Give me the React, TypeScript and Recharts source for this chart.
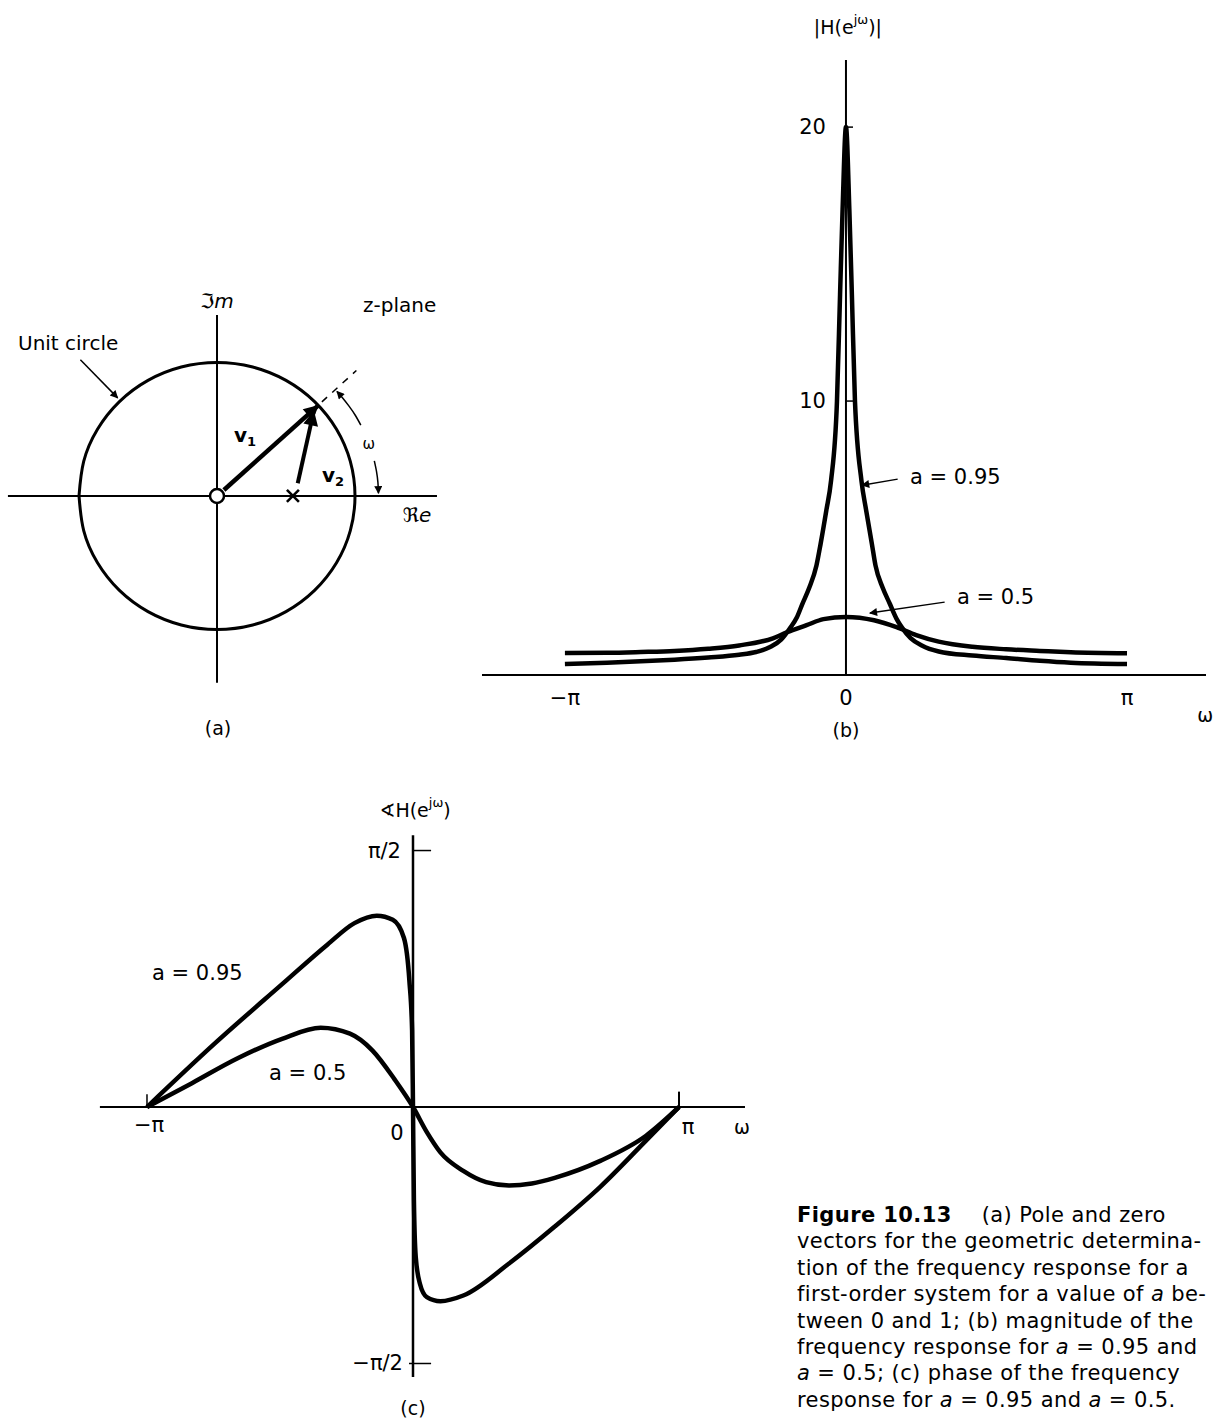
import type { ReactNode } from 'react'
import { Line, LineChart, ReferenceDot, ReferenceLine, XAxis, YAxis } from 'recharts'

const FONT = '"DejaVu Sans", "Liberation Sans", sans-serif'
const INK = '#000'

// (a) z-plane: unit circle read every 15 degrees, starting at the left crossing
const circleRe = [-1, -0.966, -0.866, -0.707, -0.5, -0.259, 0, 0.259, 0.5, 0.707, 0.866, 0.966, 1, 0.966, 0.866, 0.707, 0.5, 0.259, 0, -0.259, -0.5, -0.707, -0.866, -0.966, -1]
const circleIm = [0, -0.259, -0.5, -0.707, -0.866, -0.966, -1, -0.966, -0.866, -0.707, -0.5, -0.259, 0, 0.259, 0.5, 0.707, 0.866, 0.966, 1, 0.966, 0.866, 0.707, 0.5, 0.259, 0]
const v1Re = [0.05, 0.73]
const v1Im = [0.045, 0.675]
const v2Re = [0.585, 0.7]
const v2Im = [0.095, 0.63]
const rayRe = [0.76, 1.01]
const rayIm = [0.705, 0.94]
const arcUpRe = [1.042, 1.003, 0.958, 0.909, 0.869]
const arcUpIm = [0.531, 0.603, 0.671, 0.736, 0.783]
const arcDnRe = [1.14, 1.156, 1.166, 1.17]
const arcDnIm = [0.263, 0.183, 0.102, 0.02]
const leaderRe = [-0.99, -0.72]
const leaderIm = [1.02, 0.735]
const poleRe = 0.55

// (b) magnitude, omega in units of pi
const magW95 = [-1, -0.85, -0.73, -0.61, -0.49, -0.38, -0.32, -0.27, -0.23, -0.2, -0.175, -0.155, -0.13, -0.105, -0.09, -0.07, -0.053, -0.032, -0.021, -0.012, 0, 0.012, 0.021, 0.032, 0.055, 0.072, 0.092, 0.105, 0.13, 0.156, 0.18, 0.2, 0.23, 0.27, 0.33, 0.45, 0.57, 0.69, 0.8, 1]
const magH95 = [0.4, 0.45, 0.5, 0.56, 0.64, 0.74, 0.84, 1.02, 1.3, 1.7, 2.1, 2.6, 3.2, 4.0, 4.8, 6.0, 7.1, 10.0, 13.9, 17.0, 20.0, 17.0, 13.9, 10.0, 7.1, 6.0, 4.8, 4.0, 3.2, 2.6, 2.05, 1.72, 1.35, 1.08, 0.86, 0.71, 0.62, 0.52, 0.45, 0.4]
const magW50 = [-1, -0.85, -0.73, -0.61, -0.49, -0.38, -0.26, -0.21, -0.14, -0.08, 0, 0.1, 0.18, 0.25, 0.33, 0.45, 0.57, 0.69, 0.8, 1]
const magH50 = [0.8, 0.81, 0.84, 0.88, 0.96, 1.08, 1.34, 1.56, 1.82, 2.04, 2.12, 2.0, 1.75, 1.46, 1.22, 1.03, 0.94, 0.88, 0.83, 0.79]
const magTicks = [10, 20]
const omegaTicks = [-1, 0, 1]
const omegaLabels = ['−π', '0', 'π']

// (c) phase, omega in units of pi, phase in units of pi/2
const phW95 = [-1, -0.746, -0.492, -0.322, -0.22, -0.136, -0.076, -0.034, -0.0136, -0.0034, 0, 0.0034, 0.0103, 0.026, 0.052, 0.103, 0.189, 0.361, 0.533, 0.704, 0.876, 1]
const ph95 = [0, 0.247, 0.479, 0.633, 0.717, 0.746, 0.73, 0.659, 0.492, 0.299, 0, -0.361, -0.584, -0.689, -0.741, -0.757, -0.735, -0.61, -0.466, -0.311, -0.131, 0]
const phW50 = [-1, -0.831, -0.661, -0.492, -0.347, -0.237, -0.153, -0.068, 0, 0.052, 0.103, 0.189, 0.275, 0.361, 0.447, 0.533, 0.704, 0.876, 1]
const ph50 = [0, 0.093, 0.189, 0.266, 0.309, 0.286, 0.221, 0.106, 0, -0.098, -0.177, -0.249, -0.293, -0.306, -0.298, -0.276, -0.21, -0.112, 0]

const zip = (xs: number[], ys: number[]) => xs.map((x, i) => ({ x, y: ys[i] }))

type NoteOpts = {
  dx?: number
  dy?: number
  anchor?: 'start' | 'middle' | 'end'
  size?: number
  italic?: boolean
  bold?: boolean
}

// text pinned to a data point, drawn through ReferenceDot's shape
function note(body: ReactNode, o: NoteOpts = {}) {
  return (p: any) => (
    <text
      x={p.cx + (o.dx ?? 0)}
      y={p.cy + (o.dy ?? 0)}
      textAnchor={o.anchor ?? 'middle'}
      dominantBaseline="central"
      fontFamily={FONT}
      fontSize={o.size ?? 21}
      fontStyle={o.italic ? 'italic' : 'normal'}
      fontWeight={o.bold ? 'bold' : 'normal'}
      fill={INK}
    >
      {body}
    </text>
  )
}

const heads = (prefix: string) => (
  <defs>
    <marker id={`${prefix}Big`} viewBox="0 0 10 10" refX="9" refY="5" markerWidth="22" markerHeight="15" markerUnits="userSpaceOnUse" orient="auto">
      <path d="M0,0 L10,5 L0,10 z" fill={INK} />
    </marker>
    <marker id={`${prefix}Small`} viewBox="0 0 10 10" refX="9" refY="5" markerWidth="11" markerHeight="8" markerUnits="userSpaceOnUse" orient="auto">
      <path d="M0,0 L10,5 L0,10 z" fill={INK} />
    </marker>
  </defs>
)

const seg = { stroke: INK, ifOverflow: 'visible' as const }
const flat = { dot: false, activeDot: false, isAnimationActive: false, dataKey: 'y', stroke: INK }

function PanelA() {
  return (
    <div style={{ position: 'absolute', left: 0, top: 280 }}>
      <LineChart width={470} height={460} margin={{ top: 0, right: 0, bottom: 0, left: 0 }}>
        {heads('a')}
        <XAxis type="number" dataKey="x" domain={[-1.5725, 1.8333]} hide />
        <YAxis type="number" domain={[-1.828, 1.618]} hide />
        <ReferenceLine segment={[{ x: -1.515, y: 0 }, { x: 1.594, y: 0 }]} strokeWidth={2} {...seg} />
        <ReferenceLine segment={[{ x: 0, y: -1.4 }, { x: 0, y: 1.356 }]} strokeWidth={2} {...seg} />
        <Line data={zip(circleRe, circleIm)} type="natural" strokeWidth={3} {...flat} />
        <Line data={zip(v1Re, v1Im)} type="linear" strokeWidth={4.5} markerEnd="url(#aBig)" {...flat} />
        <Line data={zip(v2Re, v2Im)} type="linear" strokeWidth={4} markerEnd="url(#aBig)" {...flat} />
        <Line data={zip(rayRe, rayIm)} type="linear" strokeWidth={1.5} strokeDasharray="7 7" {...flat} />
        <Line data={zip(arcUpRe, arcUpIm)} type="natural" strokeWidth={1.5} markerEnd="url(#aSmall)" {...flat} />
        <Line data={zip(arcDnRe, arcDnIm)} type="natural" strokeWidth={1.5} markerEnd="url(#aSmall)" {...flat} />
        <Line data={zip(leaderRe, leaderIm)} type="linear" strokeWidth={1.5} markerEnd="url(#aSmall)" {...flat} />
        <ReferenceDot x={0} y={0} r={7} fill="#fff" stroke={INK} strokeWidth={2.5} ifOverflow="visible" />
        <ReferenceDot
          x={poleRe}
          y={0}
          r={0}
          ifOverflow="visible"
          shape={(p: any) => (
            <g stroke={INK} strokeWidth={2.5}>
              <line x1={p.cx - 6} y1={p.cy - 6} x2={p.cx + 6} y2={p.cy + 6} />
              <line x1={p.cx - 6} y1={p.cy + 6} x2={p.cx + 6} y2={p.cy - 6} />
            </g>
          )}
        />
        <ReferenceDot x={0} y={1.461} r={0} ifOverflow="visible" shape={note('ℑm', { italic: true, size: 20 })} />
        <ReferenceDot x={1.058} y={1.43} r={0} ifOverflow="visible" shape={note('z-plane', { anchor: 'start', size: 20 })} />
        <ReferenceDot x={-1.442} y={1.146} r={0} ifOverflow="visible" shape={note('Unit circle', { anchor: 'start', size: 20 })} />
        <ReferenceDot
          x={0.203}
          y={0.457}
          r={0}
          ifOverflow="visible"
          shape={note(<><tspan fontWeight="bold">v</tspan><tspan dy={6} fontSize={13} fontWeight="bold">1</tspan></>, { size: 20 })}
        />
        <ReferenceDot
          x={0.84}
          y={0.157}
          r={0}
          ifOverflow="visible"
          shape={note(<><tspan fontWeight="bold">v</tspan><tspan dy={6} fontSize={13} fontWeight="bold">2</tspan></>, { size: 20 })}
        />
        <ReferenceDot x={1.1} y={0.39} r={0} ifOverflow="visible" shape={note('ω', { size: 15 })} />
        <ReferenceDot x={1.449} y={-0.142} r={0} ifOverflow="visible" shape={note('ℜe', { italic: true, size: 20 })} />
        <ReferenceDot x={0.007} y={-1.738} r={0} ifOverflow="visible" shape={note('(a)', { size: 19 })} />
      </LineChart>
    </div>
  )
}

function PanelB() {
  return (
    <div style={{ position: 'absolute', left: 440, top: 0 }}>
      <LineChart width={784} height={760} margin={{ top: 60, right: 18, bottom: 45, left: 42 }}>
        {heads('b')}
        <XAxis
          type="number"
          dataKey="x"
          domain={[-1.295, 1.281]}
          ticks={omegaTicks}
          tickFormatter={(v: number) => omegaLabels[omegaTicks.indexOf(v)]}
          height={40}
          tickLine={false}
          tickSize={7}
          tickMargin={8}
          axisLine={{ stroke: INK, strokeWidth: 2 }}
          tick={{ fill: INK, fontSize: 21, fontFamily: FONT }}
        />
        <YAxis type="number" domain={[0, 22.45]} hide />
        <ReferenceLine segment={[{ x: 0, y: 0 }, { x: 0, y: 22.45 }]} strokeWidth={2} {...seg} />
        {magTicks.map((t) => (
          <ReferenceLine key={`t${t}`} segment={[{ x: 0, y: t }, { x: 0.025, y: t }]} strokeWidth={1.5} {...seg} />
        ))}
        {magTicks.map((t) => (
          <ReferenceDot key={`l${t}`} x={0} y={t} r={0} ifOverflow="visible" shape={note(String(t), { anchor: 'end', dx: -20 })} />
        ))}
        <Line data={zip(magW50, magH50)} type="monotone" strokeWidth={4.5} {...flat} />
        <Line data={zip(magW95, magH95)} type="monotone" strokeWidth={4.5} {...flat} />
        <Line data={zip([0.184, 0.057], [7.15, 6.93])} type="linear" strokeWidth={1.5} markerEnd="url(#bSmall)" {...flat} />
        <Line data={zip([0.351, 0.085], [2.66, 2.26])} type="linear" strokeWidth={1.5} markerEnd="url(#bSmall)" {...flat} />
        <ReferenceDot x={0.228} y={7.23} r={0} ifOverflow="visible" shape={note('a = 0.95', { anchor: 'start' })} />
        <ReferenceDot x={0.395} y={2.85} r={0} ifOverflow="visible" shape={note('a = 0.5', { anchor: 'start' })} />
        <ReferenceDot
          x={0.007}
          y={23.65}
          r={0}
          ifOverflow="visible"
          shape={note(<>|H(e<tspan dy={-8} fontSize={13}>jω</tspan><tspan dy={8}>)|</tspan></>, { size: 19 })}
        />
        <ReferenceDot x={1.278} y={-1.46} r={0} ifOverflow="visible" shape={note('ω', { size: 19 })} />
        <ReferenceDot x={0} y={-2.0} r={0} ifOverflow="visible" shape={note('(b)', { size: 19 })} />
      </LineChart>
    </div>
  )
}

function PanelC() {
  return (
    <div style={{ position: 'absolute', left: 60, top: 780 }}>
      <LineChart width={760} height={646} margin={{ top: 0, right: 0, bottom: 0, left: 0 }}>
        <XAxis type="number" dataKey="x" domain={[-1.327, 1.53]} hide />
        <YAxis type="number" domain={[-1.2437, 1.275]} hide />
        <ReferenceLine segment={[{ x: -1.177, y: 0 }, { x: 1.248, y: 0 }]} strokeWidth={2} {...seg} />
        <ReferenceLine segment={[{ x: 0, y: -1.053 }, { x: 0, y: 1.06 }]} strokeWidth={2.5} {...seg} />
        <ReferenceLine segment={[{ x: 0, y: 1 }, { x: 0.068, y: 1 }]} strokeWidth={1.5} {...seg} />
        <ReferenceLine segment={[{ x: -0.015, y: -1 }, { x: 0.068, y: -1 }]} strokeWidth={1.5} {...seg} />
        <ReferenceLine segment={[{ x: -1, y: 0 }, { x: -1, y: 0.05 }]} strokeWidth={1.5} {...seg} />
        <ReferenceLine segment={[{ x: 1, y: 0 }, { x: 1, y: 0.06 }]} strokeWidth={2} {...seg} />
        <Line data={zip(phW50, ph50)} type="monotone" strokeWidth={4.5} {...flat} />
        <Line data={zip(phW95, ph95)} type="monotone" strokeWidth={4.5} {...flat} />
        <ReferenceDot
          x={0.008}
          y={1.158}
          r={0}
          ifOverflow="visible"
          shape={note(<>∢H(e<tspan dy={-8} fontSize={13}>jω</tspan><tspan dy={8}>)</tspan></>, { size: 19 })}
        />
        <ReferenceDot x={0} y={1} r={0} ifOverflow="visible" shape={note('π/2', { anchor: 'end', dx: -12 })} />
        <ReferenceDot x={0} y={-1} r={0} ifOverflow="visible" shape={note('−π/2', { anchor: 'end', dx: -10 })} />
        <ReferenceDot x={-0.992} y={-0.07} r={0} ifOverflow="visible" shape={note('−π')} />
        <ReferenceDot x={-0.06} y={-0.101} r={0} ifOverflow="visible" shape={note('0')} />
        <ReferenceDot x={1.034} y={-0.078} r={0} ifOverflow="visible" shape={note('π')} />
        <ReferenceDot x={1.237} y={-0.078} r={0} ifOverflow="visible" shape={note('ω', { size: 19 })} />
        <ReferenceDot x={-0.981} y={0.522} r={0} ifOverflow="visible" shape={note('a = 0.95', { anchor: 'start' })} />
        <ReferenceDot x={-0.541} y={0.133} r={0} ifOverflow="visible" shape={note('a = 0.5', { anchor: 'start' })} />
        <ReferenceDot x={0} y={-1.175} r={0} ifOverflow="visible" shape={note('(c)', { size: 19 })} />
      </LineChart>
    </div>
  )
}

const it = { fontStyle: 'italic' as const }

function Caption() {
  return (
    <div
      style={{
        position: 'absolute',
        left: 797,
        top: 1202,
        fontFamily: FONT,
        fontSize: 21,
        lineHeight: '26.4px',
        letterSpacing: 0.4,
        color: INK,
        whiteSpace: 'nowrap'
      }}
    >
      <div>
        <b>Figure 10.13</b>
        <span style={{ marginLeft: 30 }}>(a) Pole and zero</span>
      </div>
      <div>vectors for the geometric determina-</div>
      <div>tion of the frequency response for a</div>
      <div>
        first-order system for a value of <span style={it}>a</span> be-
      </div>
      <div>tween 0 and 1; (b) magnitude of the</div>
      <div>
        frequency response for <span style={it}>a</span> = 0.95 and
      </div>
      <div>
        <span style={it}>a</span> = 0.5; (c) phase of the frequency
      </div>
      <div>
        response for <span style={it}>a</span> = 0.95 and <span style={it}>a</span> = 0.5.
      </div>
    </div>
  )
}

export default function App() {
  return (
    <div
      style={{
        position: 'absolute',
        left: 0,
        top: 0,
        width: 1224,
        height: 1426,
        background: '#fff',
        overflow: 'hidden'
      }}
    >
      <PanelA />
      <PanelB />
      <PanelC />
      <Caption />
    </div>
  )
}
